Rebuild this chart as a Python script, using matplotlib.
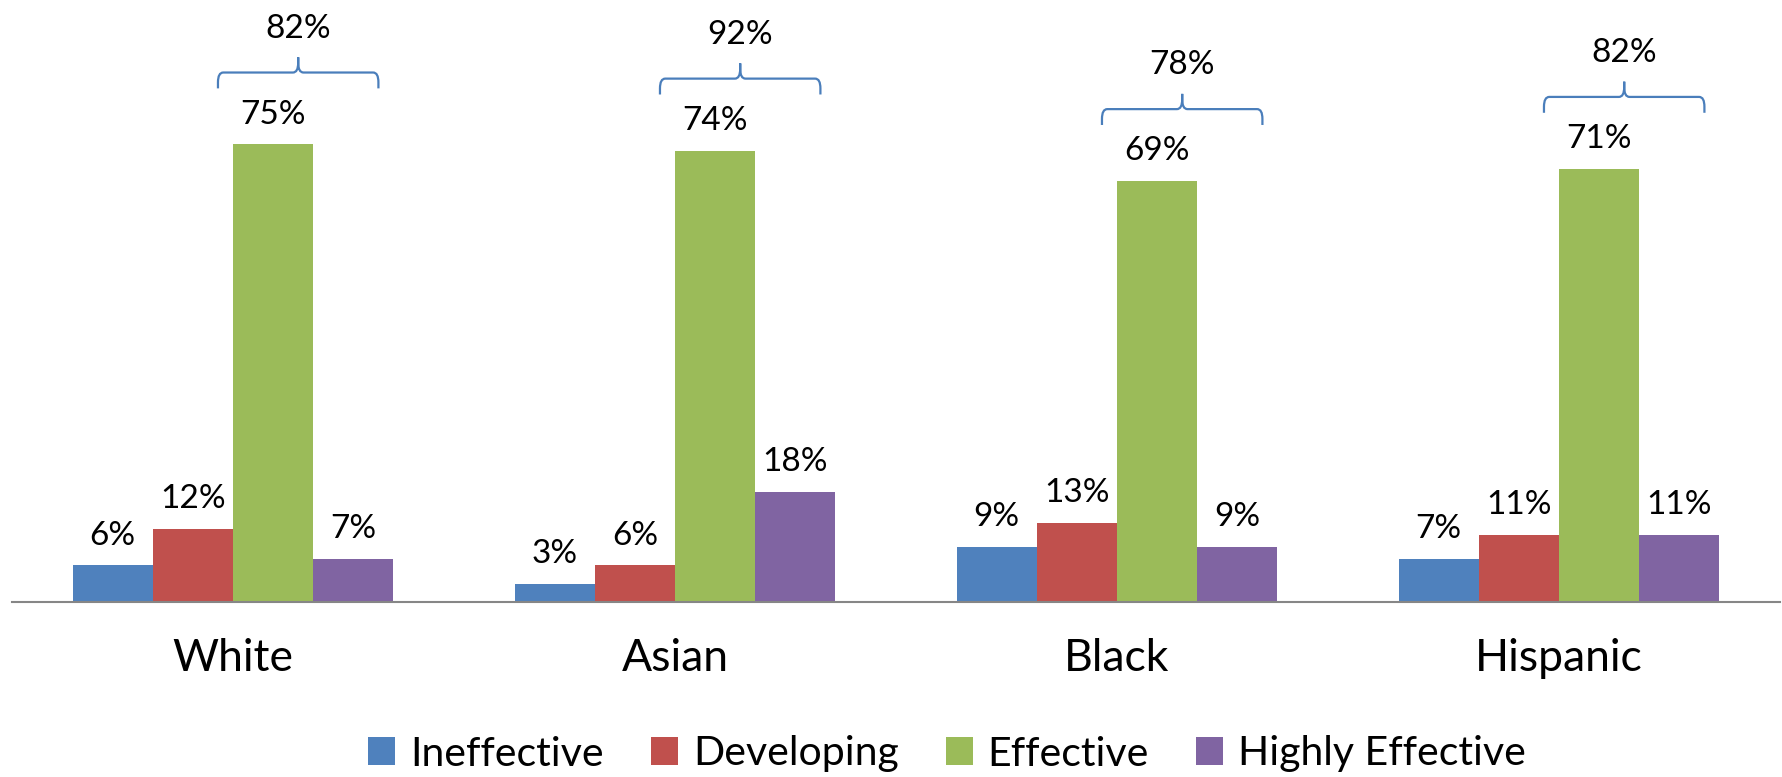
import matplotlib
matplotlib.use("Agg")
import matplotlib.pyplot as plt
from matplotlib.path import Path
from matplotlib.patches import PathPatch
import numpy as np

plt.rcParams['font.family'] = ['Lato', 'DejaVu Sans']

groups = ["White", "Asian", "Black", "Hispanic"]
series = ["Ineffective", "Developing", "Effective", "Highly Effective"]
ineffective = [6, 3, 9, 7]
developing = [12, 6, 13, 11]
effective = [75, 74, 69, 71]
highly_effective = [7, 18, 9, 11]
colors = ["#4F81BD", "#C0504D", "#9BBB59", "#8064A2"]
brace_color = "#4A7EBB"

values = [ineffective, developing, effective, highly_effective]

fig = plt.figure(figsize=(17.83, 7.77), dpi=100)
ax = fig.add_axes([12 / 1783, 175 / 777, 1768 / 1783, 549 / 777])

x = np.arange(len(groups))
n = len(series)
bw = 0.726 / n

for i, (name, vals, c) in enumerate(zip(series, values, colors)):
    pos = x + (i - (n - 1) / 2) * bw
    ax.bar(pos, vals, width=bw, color=c, label=name, linewidth=0)
    for px, v in zip(pos, vals):
        ax.annotate(f"{v}%", (px, v), xytext=(0, 15), textcoords="offset points",
                    ha="center", va="baseline", fontsize=24, clip_on=False)

# Braces grouping Effective + Highly Effective
def brace(x0, x1, y_end, y_mid, y_tip, rx=0.012, ry=1.6):
    xm = (x0 + x1) / 2
    verts = [
        (x0, y_end), (x0, y_mid - ry), (x0, y_mid), (x0 + rx, y_mid),
        (xm - rx, y_mid), (xm, y_mid), (xm, y_mid + ry), (xm, y_tip),
        (xm, y_tip), (xm, y_mid + ry), (xm, y_mid), (xm + rx, y_mid),
        (x1 - rx, y_mid), (x1, y_mid), (x1, y_mid - ry), (x1, y_end),
    ]
    codes = [
        Path.MOVETO, Path.LINETO, Path.CURVE3, Path.CURVE3,
        Path.LINETO, Path.CURVE3, Path.CURVE3, Path.LINETO,
        Path.MOVETO, Path.LINETO, Path.CURVE3, Path.CURVE3,
        Path.LINETO, Path.CURVE3, Path.CURVE3, Path.LINETO,
    ]
    ax.add_patch(PathPatch(Path(verts, codes), fill=False, edgecolor=brace_color,
                           linewidth=1.6, clip_on=False))

shift = 0.034
for gi in range(len(groups)):
    left = x[gi] + (2 - (n - 1) / 2) * bw - bw / 2 - shift
    right = x[gi] + (3 - (n - 1) / 2) * bw + bw / 2 - shift
    top = effective[gi]
    total = effective[gi] + highly_effective[gi]
    brace(left, right, top + 9.2, top + 11.8, top + 14.3)
    ax.text((left + right) / 2, top + 17.5, f"{total}%", ha="center", va="baseline",
            fontsize=24, clip_on=False)

ax.set_xlim(-0.5, len(groups) - 0.5)
ax.set_ylim(0, 90)
ax.set_xticks(x)
ax.set_xticklabels(groups, fontsize=32)
ax.tick_params(axis="x", length=0, pad=26)
ax.set_yticks([])
for s in ["top", "right", "left"]:
    ax.spines[s].set_visible(False)
ax.spines["bottom"].set_color("#868686")
ax.spines["bottom"].set_linewidth(1.5)

fig.legend(loc="center", bbox_to_anchor=(947 / 1783, 23 / 777), ncol=4, frameon=False,
           fontsize=29.5, handlelength=0.66, handleheight=0.66, handletextpad=0.36,
           columnspacing=1.15, borderaxespad=0)

fig.savefig("out.png", dpi=100)
